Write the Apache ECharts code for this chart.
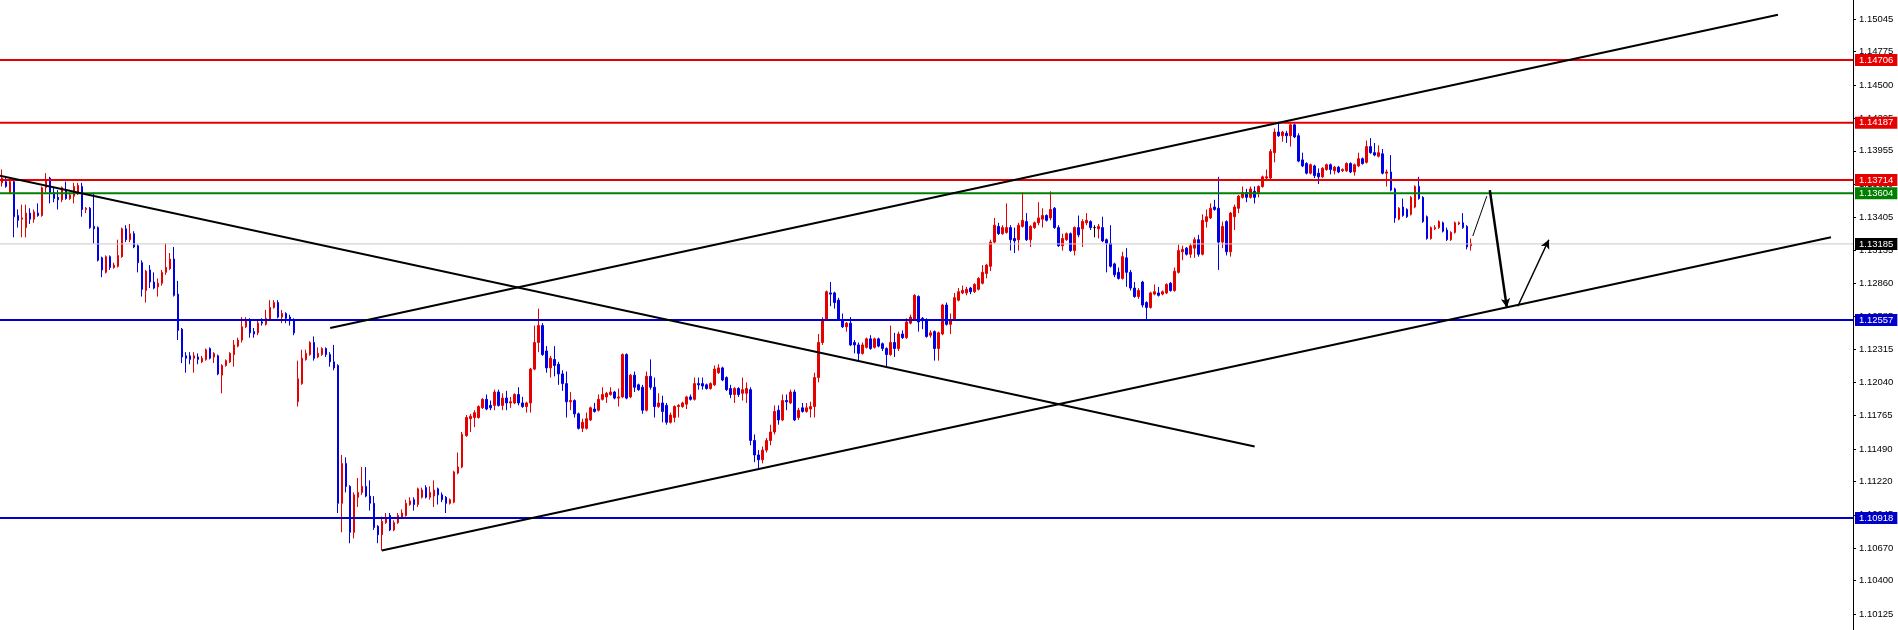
<!DOCTYPE html>
<html>
<head>
<meta charset="utf-8">
<script src="https://cdn.jsdelivr.net/npm/echarts@6/dist/echarts.min.js"></script>
<style>
html,body{margin:0;padding:0;background:#fff;}
#chart{width:1898px;height:630px;}
</style>
</head>
<body>
<div id="chart"></div>
<script>
// ---- DATA ----
// each candle: [open, close, low, high]
const candles = [
[1.1369,1.1373,1.1366,1.1380],[1.1370,1.1366,1.1365,1.1373],[1.1361,1.1370,1.1361,1.1371],[1.1370,1.1341,1.1324,1.1371],
[1.1342,1.1338,1.1332,1.1347],[1.1339,1.1340,1.1324,1.1351],[1.1332,1.1344,1.1324,1.1351],[1.1344,1.1339,1.1335,1.1348],
[1.1339,1.1345,1.1336,1.1347],[1.1344,1.1342,1.1341,1.1352],[1.1342,1.1365,1.1341,1.1366],[1.1365,1.1371,1.1361,1.1377],
[1.1373,1.1361,1.1352,1.1374],[1.1361,1.1356,1.1353,1.1365],[1.1357,1.1355,1.1347,1.1363],[1.1355,1.1365,1.1353,1.1366],
[1.1363,1.1356,1.1355,1.1370],[1.1356,1.1359,1.1355,1.1361],[1.1358,1.1366,1.1352,1.1369],[1.1361,1.1367,1.1359,1.1369],
[1.1366,1.1347,1.1341,1.1369],[1.1347,1.1348,1.1344,1.1349],[1.1348,1.1332,1.1331,1.1349],[1.1333,1.1331,1.1319,1.1361],
[1.1332,1.1305,1.1304,1.1333],[1.1307,1.1297,1.1291,1.1308],[1.1295,1.1308,1.1294,1.1309],[1.1308,1.1299,1.1297,1.1309],
[1.1299,1.1301,1.1298,1.1303],[1.1300,1.1309,1.1299,1.1322],[1.1308,1.1331,1.1307,1.1332],[1.1331,1.1322,1.1320,1.1334],
[1.1322,1.1327,1.1320,1.1335],[1.1327,1.1316,1.1315,1.1329],[1.1317,1.1303,1.1295,1.1318],[1.1303,1.1281,1.1275,1.1305],
[1.1280,1.1296,1.1270,1.1297],[1.1297,1.1287,1.1282,1.1301],[1.1287,1.1282,1.1281,1.1295],[1.1283,1.1286,1.1275,1.1290],
[1.1286,1.1295,1.1284,1.1297],[1.1295,1.1299,1.1293,1.1319],[1.1298,1.1306,1.1297,1.1311],[1.1306,1.1276,1.1275,1.1316],
[1.1277,1.1247,1.1239,1.1288],[1.1248,1.1225,1.1220,1.1249],[1.1226,1.1224,1.1212,1.1229],[1.1226,1.1223,1.1219,1.1229],
[1.1224,1.1226,1.1212,1.1229],[1.1225,1.1223,1.1219,1.1228],[1.1221,1.1224,1.1220,1.1226],[1.1223,1.1231,1.1222,1.1232],
[1.1232,1.1224,1.1223,1.1233],[1.1225,1.1228,1.1220,1.1229],[1.1226,1.1211,1.1210,1.1227],[1.1210,1.1218,1.1195,1.1219],
[1.1218,1.1222,1.1217,1.1223],[1.1221,1.1228,1.1220,1.1229],[1.1227,1.1235,1.1217,1.1239],[1.1234,1.1239,1.1233,1.1241],
[1.1239,1.1250,1.1237,1.1258],[1.1250,1.1256,1.1249,1.1258],[1.1256,1.1245,1.1241,1.1257],[1.1246,1.1244,1.1241,1.1249],
[1.1245,1.1253,1.1243,1.1255],[1.1254,1.1253,1.1251,1.1257],[1.1252,1.1257,1.1251,1.1264],[1.1256,1.1266,1.1255,1.1272],
[1.1266,1.1270,1.1265,1.1272],[1.1270,1.1258,1.1257,1.1272],[1.1258,1.1261,1.1253,1.1264],[1.1261,1.1257,1.1253,1.1262],
[1.1258,1.1255,1.1251,1.1260],[1.1256,1.1245,1.1243,1.1257],[1.1188,1.1207,1.1184,1.1222],[1.1203,1.1224,1.1202,1.1231],
[1.1223,1.1228,1.1222,1.1231],[1.1227,1.1237,1.1226,1.1238],[1.1237,1.1224,1.1222,1.1242],[1.1225,1.1228,1.1224,1.1233],
[1.1227,1.1232,1.1226,1.1233],[1.1232,1.1227,1.1225,1.1233],[1.1227,1.1221,1.1217,1.1229],[1.1221,1.1216,1.1214,1.1235],
[1.1218,1.1104,1.1096,1.1219],[1.1104,1.1137,1.1080,1.1144],[1.1137,1.1118,1.1113,1.1142],[1.1118,1.1080,1.1071,1.1119],
[1.1080,1.1111,1.1075,1.1113],[1.1109,1.1113,1.1101,1.1125],[1.1113,1.1118,1.1111,1.1134],[1.1118,1.1110,1.1109,1.1134],
[1.1110,1.1104,1.1098,1.1123],[1.1104,1.1084,1.1082,1.1110],[1.1085,1.1078,1.1071,1.1086],[1.1078,1.1089,1.1065,1.1093],
[1.1088,1.1092,1.1087,1.1096],[1.1094,1.1082,1.1081,1.1096],[1.1082,1.1088,1.1081,1.1090],[1.1088,1.1094,1.1087,1.1096],
[1.1092,1.1096,1.1091,1.1099],[1.1094,1.1104,1.1093,1.1107],[1.1103,1.1106,1.1102,1.1109],[1.1107,1.1103,1.1098,1.1109],
[1.1103,1.1116,1.1101,1.1117],[1.1109,1.1115,1.1108,1.1117],[1.1117,1.1109,1.1108,1.1119],[1.1109,1.1113,1.1107,1.1118],
[1.1110,1.1115,1.1101,1.1123],[1.1116,1.1111,1.1103,1.1117],[1.1111,1.1107,1.1105,1.1113],[1.1109,1.1104,1.1096,1.1110],
[1.1104,1.1107,1.1103,1.1108],[1.1105,1.1130,1.1104,1.1131],[1.1129,1.1134,1.1128,1.1146],[1.1134,1.1161,1.1133,1.1163],
[1.1160,1.1175,1.1159,1.1177],[1.1174,1.1176,1.1163,1.1178],[1.1175,1.1179,1.1167,1.1181],[1.1175,1.1184,1.1174,1.1185],
[1.1183,1.1190,1.1182,1.1191],[1.1190,1.1182,1.1181,1.1194],[1.1185,1.1183,1.1181,1.1189],[1.1185,1.1196,1.1181,1.1198],
[1.1196,1.1185,1.1184,1.1198],[1.1185,1.1191,1.1181,1.1195],[1.1191,1.1187,1.1181,1.1197],[1.1187,1.1188,1.1183,1.1192],
[1.1187,1.1194,1.1186,1.1195],[1.1194,1.1187,1.1185,1.1200],[1.1187,1.1184,1.1183,1.1192],[1.1184,1.1187,1.1179,1.1188],
[1.1187,1.1215,1.1179,1.1216],[1.1215,1.1237,1.1214,1.1251],[1.1237,1.1251,1.1229,1.1265],[1.1251,1.1227,1.1226,1.1253],
[1.1230,1.1216,1.1212,1.1234],[1.1216,1.1224,1.1208,1.1226],[1.1223,1.1218,1.1209,1.1234],[1.1219,1.1211,1.1202,1.1221],
[1.1211,1.1203,1.1197,1.1214],[1.1203,1.1188,1.1175,1.1213],[1.1188,1.1189,1.1181,1.1196],[1.1189,1.1178,1.1175,1.1190],
[1.1178,1.1166,1.1165,1.1179],[1.1166,1.1171,1.1163,1.1174],[1.1166,1.1174,1.1165,1.1179],[1.1173,1.1183,1.1172,1.1184],
[1.1182,1.1180,1.1179,1.1187],[1.1181,1.1190,1.1180,1.1194],[1.1190,1.1194,1.1189,1.1200],[1.1192,1.1195,1.1187,1.1196],
[1.1194,1.1196,1.1193,1.1200],[1.1196,1.1191,1.1190,1.1197],[1.1191,1.1192,1.1184,1.1199],[1.1192,1.1227,1.1191,1.1228],
[1.1227,1.1191,1.1190,1.1228],[1.1192,1.1210,1.1191,1.1211],[1.1210,1.1200,1.1196,1.1213],[1.1202,1.1198,1.1197,1.1203],
[1.1200,1.1181,1.1178,1.1202],[1.1181,1.1209,1.1180,1.1213],[1.1209,1.1200,1.1198,1.1223],[1.1200,1.1184,1.1175,1.1208],
[1.1184,1.1187,1.1183,1.1195],[1.1187,1.1180,1.1171,1.1193],[1.1185,1.1171,1.1169,1.1187],[1.1171,1.1177,1.1170,1.1179],
[1.1175,1.1184,1.1171,1.1185],[1.1184,1.1185,1.1175,1.1186],[1.1184,1.1187,1.1183,1.1188],[1.1186,1.1192,1.1182,1.1193],
[1.1192,1.1190,1.1189,1.1194],[1.1190,1.1203,1.1189,1.1208],[1.1203,1.1202,1.1198,1.1208],[1.1203,1.1201,1.1198,1.1208],
[1.1202,1.1199,1.1198,1.1203],[1.1199,1.1203,1.1198,1.1204],[1.1202,1.1215,1.1201,1.1218],[1.1212,1.1216,1.1211,1.1219],
[1.1216,1.1206,1.1205,1.1217],[1.1208,1.1198,1.1197,1.1209],[1.1199,1.1194,1.1191,1.1202],[1.1194,1.1199,1.1187,1.1200],
[1.1199,1.1194,1.1192,1.1200],[1.1195,1.1198,1.1189,1.1208],[1.1195,1.1199,1.1187,1.1204],[1.1198,1.1156,1.1152,1.1200],
[1.1156,1.1144,1.1138,1.1161],[1.1144,1.1140,1.1132,1.1148],[1.1140,1.1148,1.1137,1.1151],[1.1148,1.1156,1.1146,1.1158],
[1.1156,1.1163,1.1152,1.1169],[1.1163,1.1180,1.1161,1.1185],[1.1181,1.1173,1.1169,1.1185],[1.1173,1.1189,1.1172,1.1194],
[1.1189,1.1188,1.1181,1.1194],[1.1187,1.1196,1.1186,1.1198],[1.1196,1.1173,1.1172,1.1198],[1.1175,1.1181,1.1173,1.1183],
[1.1183,1.1180,1.1179,1.1187],[1.1180,1.1183,1.1179,1.1187],[1.1182,1.1184,1.1175,1.1188],[1.1184,1.1208,1.1175,1.1212],
[1.1208,1.1237,1.1204,1.1244],[1.1237,1.1256,1.1235,1.1258],[1.1256,1.1279,1.1255,1.1280],[1.1278,1.1277,1.1267,1.1287],
[1.1278,1.1270,1.1265,1.1279],[1.1272,1.1256,1.1255,1.1274],[1.1256,1.1250,1.1249,1.1261],[1.1250,1.1253,1.1246,1.1254],
[1.1253,1.1235,1.1234,1.1258],[1.1237,1.1235,1.1228,1.1239],[1.1235,1.1228,1.1222,1.1237],[1.1228,1.1235,1.1227,1.1237],
[1.1233,1.1240,1.1232,1.1241],[1.1240,1.1232,1.1231,1.1243],[1.1233,1.1240,1.1232,1.1241],[1.1240,1.1234,1.1233,1.1241],
[1.1236,1.1232,1.1230,1.1237],[1.1232,1.1227,1.1216,1.1233],[1.1227,1.1237,1.1226,1.1251],[1.1237,1.1232,1.1225,1.1245],
[1.1232,1.1244,1.1230,1.1246],[1.1244,1.1241,1.1240,1.1247],[1.1241,1.1254,1.1240,1.1257],[1.1253,1.1258,1.1252,1.1260],
[1.1256,1.1276,1.1255,1.1277],[1.1275,1.1254,1.1246,1.1276],[1.1257,1.1255,1.1248,1.1258],[1.1256,1.1242,1.1241,1.1257],
[1.1243,1.1245,1.1241,1.1247],[1.1246,1.1232,1.1222,1.1247],[1.1232,1.1245,1.1222,1.1246],[1.1244,1.1268,1.1243,1.1269],
[1.1268,1.1252,1.1251,1.1270],[1.1252,1.1256,1.1244,1.1261],[1.1256,1.1274,1.1255,1.1278],[1.1272,1.1279,1.1271,1.1282],
[1.1278,1.1280,1.1277,1.1284],[1.1278,1.1281,1.1276,1.1283],[1.1282,1.1279,1.1277,1.1283],[1.1279,1.1285,1.1278,1.1286],
[1.1281,1.1290,1.1280,1.1291],[1.1286,1.1295,1.1285,1.1301],[1.1294,1.1301,1.1290,1.1302],[1.1300,1.1320,1.1296,1.1322],
[1.1320,1.1334,1.1319,1.1340],[1.1333,1.1327,1.1326,1.1336],[1.1327,1.1332,1.1326,1.1334],[1.1328,1.1332,1.1327,1.1352],
[1.1332,1.1322,1.1313,1.1334],[1.1323,1.1321,1.1311,1.1332],[1.1322,1.1334,1.1313,1.1336],[1.1333,1.1338,1.1332,1.1361],
[1.1337,1.1322,1.1321,1.1344],[1.1322,1.1333,1.1316,1.1334],[1.1332,1.1336,1.1331,1.1337],[1.1336,1.1340,1.1334,1.1353],
[1.1339,1.1342,1.1332,1.1348],[1.1342,1.1338,1.1337,1.1343],[1.1340,1.1347,1.1338,1.1362],[1.1348,1.1332,1.1331,1.1349],
[1.1332,1.1317,1.1316,1.1334],[1.1317,1.1323,1.1313,1.1327],[1.1322,1.1327,1.1321,1.1328],[1.1327,1.1313,1.1312,1.1328],
[1.1313,1.1332,1.1309,1.1333],[1.1332,1.1326,1.1324,1.1342],[1.1331,1.1337,1.1316,1.1339],[1.1336,1.1338,1.1334,1.1344],
[1.1337,1.1332,1.1330,1.1338],[1.1332,1.1332,1.1324,1.1334],[1.1331,1.1333,1.1323,1.1335],[1.1332,1.1321,1.1320,1.1341],
[1.1322,1.1319,1.1295,1.1323],[1.1319,1.1300,1.1299,1.1334],[1.1302,1.1293,1.1291,1.1303],[1.1295,1.1290,1.1289,1.1299],
[1.1290,1.1308,1.1289,1.1312],[1.1307,1.1295,1.1283,1.1315],[1.1295,1.1282,1.1280,1.1297],[1.1282,1.1275,1.1274,1.1287],
[1.1275,1.1280,1.1273,1.1282],[1.1287,1.1268,1.1266,1.1288],[1.1270,1.1266,1.1256,1.1271],[1.1266,1.1278,1.1265,1.1279],
[1.1277,1.1279,1.1276,1.1285],[1.1278,1.1276,1.1275,1.1283],[1.1277,1.1279,1.1276,1.1280],[1.1278,1.1285,1.1277,1.1286],
[1.1286,1.1280,1.1279,1.1287],[1.1280,1.1296,1.1279,1.1299],[1.1295,1.1313,1.1294,1.1318],[1.1312,1.1314,1.1305,1.1317],
[1.1315,1.1310,1.1309,1.1316],[1.1310,1.1317,1.1307,1.1319],[1.1315,1.1322,1.1307,1.1324],[1.1322,1.1310,1.1308,1.1326],
[1.1310,1.1338,1.1309,1.1343],[1.1337,1.1341,1.1332,1.1347],[1.1340,1.1348,1.1339,1.1352],[1.1349,1.1347,1.1346,1.1355],
[1.1348,1.1320,1.1297,1.1374],[1.1320,1.1333,1.1315,1.1337],[1.1337,1.1312,1.1309,1.1338],[1.1312,1.1344,1.1308,1.1345],
[1.1341,1.1349,1.1330,1.1351],[1.1348,1.1358,1.1344,1.1359],[1.1357,1.1361,1.1356,1.1366],[1.1361,1.1357,1.1353,1.1364],
[1.1357,1.1364,1.1356,1.1366],[1.1362,1.1357,1.1352,1.1366],[1.1361,1.1366,1.1357,1.1367],[1.1366,1.1374,1.1365,1.1375],
[1.1373,1.1374,1.1371,1.1380],[1.1373,1.1395,1.1372,1.1397],[1.1394,1.1411,1.1386,1.1414],[1.1411,1.1408,1.1407,1.1418],
[1.1408,1.1411,1.1403,1.1412],[1.1410,1.1408,1.1402,1.1412],[1.1408,1.1417,1.1399,1.1418],[1.1417,1.1407,1.1406,1.1418],
[1.1408,1.1387,1.1386,1.1410],[1.1388,1.1383,1.1382,1.1394],[1.1385,1.1377,1.1376,1.1386],[1.1377,1.1384,1.1376,1.1385],
[1.1383,1.1375,1.1373,1.1384],[1.1377,1.1374,1.1368,1.1381],[1.1374,1.1381,1.1373,1.1382],[1.1380,1.1384,1.1379,1.1385],
[1.1384,1.1380,1.1376,1.1385],[1.1379,1.1382,1.1376,1.1383],[1.1382,1.1378,1.1377,1.1383],[1.1379,1.1380,1.1378,1.1381],
[1.1379,1.1385,1.1378,1.1386],[1.1385,1.1378,1.1377,1.1386],[1.1378,1.1384,1.1375,1.1385],[1.1383,1.1389,1.1382,1.1394],
[1.1389,1.1385,1.1384,1.1390],[1.1386,1.1399,1.1385,1.1404],[1.1399,1.1394,1.1393,1.1406],[1.1394,1.1392,1.1391,1.1402],
[1.1391,1.1394,1.1390,1.1400],[1.1393,1.1377,1.1376,1.1397],[1.1377,1.1378,1.1366,1.1380],[1.1378,1.1363,1.1362,1.1392],
[1.1364,1.1340,1.1336,1.1365],[1.1339,1.1348,1.1338,1.1349],[1.1349,1.1342,1.1341,1.1356],[1.1347,1.1341,1.1340,1.1348],
[1.1343,1.1357,1.1342,1.1358],[1.1349,1.1366,1.1348,1.1367],[1.1366,1.1356,1.1355,1.1374],[1.1357,1.1337,1.1336,1.1358],
[1.1341,1.1323,1.1322,1.1342],[1.1323,1.1332,1.1322,1.1333],[1.1331,1.1332,1.1330,1.1334],[1.1332,1.1337,1.1331,1.1338],
[1.1336,1.1329,1.1328,1.1337],[1.1330,1.1322,1.1321,1.1332],[1.1322,1.1328,1.1321,1.1329],[1.1328,1.1336,1.1327,1.1337],
[1.1335,1.1336,1.1334,1.1337],[1.1336,1.1332,1.1331,1.1344],[1.1333,1.1316,1.1314,1.1334],[1.1317,1.1319,1.1313,1.1323]
];

// price axis tick labels
const yTicks = [1.15045,1.14775,1.14500,1.14225,1.13955,1.13680,1.13405,1.13135,1.12860,1.12585,
                1.12315,1.12040,1.11765,1.11490,1.11220,1.10945,1.10670,1.10400,1.10125];

// horizontal levels
const redLevels = [1.14706, 1.14187, 1.13714];
const greenLevels = [1.13604];
const blueLevels = [1.12557, 1.10918];
const currentPrice = 1.13185;

// trend lines: [[barIndex, price], [barIndex, price]]
const trendLines = [
  [[82, 1.1249], [443.75, 1.1508]],
  [[-0.5, 1.1375], [313, 1.1151]],
  [[-0.5, 1.1122], [167.75, 1.0999]],
  [[94.9, 1.1065], [457, 1.1324]]
];
// projection arrows
const arrowThin = [[367.5, 1.1325], [371, 1.1358]];
const arrowDown = [[371.75, 1.1363], [376, 1.1266]];
const arrowUp = [[378.75, 1.1267], [386.5, 1.1322]];

// ---- CHART ----
const slotCount = 463;
const cats = [];
for (let i = 0; i < slotCount; i++) cats.push(String(i));

const yMin = 1.099926, yMax = 1.152021;
const UP = '#e60000', DOWN = '#0000e6';
const FONT = 'Liberation Sans';

const candleData = candles.map(c => c[0] === c[1]
  ? { value: c, itemStyle: { color: '#000', color0: '#000', borderColor: '#000', borderColor0: '#000' } }
  : c);

function levelSeries(price, color, bg, width) {
  return {
    type: 'line', xAxisIndex: 1, yAxisIndex: 0, silent: true, z: 4,
    symbol: 'none', showSymbol: false,
    data: [[-0.5, price], [slotCount - 0.5, price]],
    lineStyle: { color: color, width: width, type: 'solid' },
    endLabel: {
      show: true, distance: 2,
      formatter: () => price.toFixed(5),
      backgroundColor: bg, color: '#fff', padding: [1, 4],
      fontSize: 9.5, lineHeight: 10, fontFamily: FONT
    }
  };
}

const levelList = [];
levelList.push(levelSeries(currentPrice, '#c8c8c8', '#000', 1));
blueLevels.forEach(p => levelList.push(levelSeries(p, '#0000c8', '#0000c8', 2)));
greenLevels.forEach(p => levelList.push(levelSeries(p, '#007f00', '#007f00', 2)));
redLevels.forEach(p => levelList.push(levelSeries(p, '#e60000', '#e60000', 2)));

const chart = echarts.init(document.getElementById('chart'), null, { renderer: 'canvas' });
chart.setOption({
  animation: false,
  backgroundColor: '#fff',
  grid: { left: 0, right: 45, top: 0, bottom: 0, containLabel: false },
  xAxis: [
    { type: 'category', data: cats, show: false, boundaryGap: true },
    { type: 'value', min: -0.5, max: slotCount - 0.5, show: false }
  ],
  yAxis: {
    type: 'value', position: 'right', min: yMin, max: yMax, scale: true,
    splitLine: { show: false },
    axisLine: { show: true, onZero: false, lineStyle: { color: '#000', width: 1 } },
    axisTick: { show: true, customValues: yTicks, length: 3, lineStyle: { color: '#000' } },
    axisLabel: {
      show: true, customValues: yTicks, margin: 6, color: '#000', fontSize: 9.5,
      fontFamily: FONT, formatter: v => Number(v).toFixed(5)
    }
  },
  series: [
    {
      type: 'candlestick', xAxisIndex: 0, yAxisIndex: 0, data: candleData, barWidth: 2, z: 3,
      silent: true,
      itemStyle: { color: UP, color0: DOWN, borderColor: UP, borderColor0: DOWN, borderWidth: 1 }
    },
    ...levelList,
    {
      type: 'line', xAxisIndex: 1, yAxisIndex: 0, data: [], silent: true, z: 5,
      markLine: {
        silent: true, symbol: 'none', animation: false, label: { show: false },
        lineStyle: { color: '#000', width: 2, type: 'solid' },
        data: trendLines.map(([a, b]) => [{ coord: a }, { coord: b }])
      }
    },
    {
      type: 'line', xAxisIndex: 1, yAxisIndex: 0, data: [], silent: true, z: 6,
      markLine: {
        silent: true, symbol: ['none', 'arrow'], symbolSize: [7, 9], animation: false, label: { show: false },
        data: [
          [{ coord: arrowThin[0], lineStyle: { color: '#000', width: 1, type: 'solid' } }, { coord: arrowThin[1], symbol: 'none' }],
          [{ coord: arrowDown[0], lineStyle: { color: '#000', width: 2.5, type: 'solid' } }, { coord: arrowDown[1] }],
          [{ coord: arrowUp[0], lineStyle: { color: '#000', width: 1.5, type: 'solid' } }, { coord: arrowUp[1] }]
        ]
      }
    }
  ]
});
</script>
</body>
</html>
